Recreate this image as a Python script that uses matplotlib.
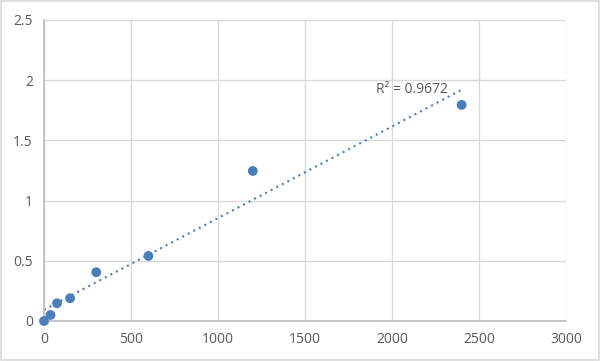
import numpy as np
import matplotlib.pyplot as plt
from matplotlib.patches import Rectangle

# dados
conc = [0, 37.5, 75, 150, 300, 600, 1200, 2400]
od = [0.0, 0.05, 0.147, 0.189, 0.405, 0.54, 1.246, 1.795]
xticks = [0, 500, 1000, 1500, 2000, 2500, 3000]
yticks = [0, 0.5, 1, 1.5, 2, 2.5]
ytick_labels = ['0', '0.5', '1', '1.5', '2', '2.5']
r2_text = 'R² = 0.9672'

plt.rcParams['font.family'] = ['Open Sans', 'DejaVu Sans']

fig = plt.figure(figsize=(6, 3.61), dpi=100)
ax = fig.add_axes([44/600, 40/361, 522/600, 301/361])

# borda da figura
fig.patches.append(Rectangle((0.002, 0.003), 0.996, 0.994, transform=fig.transFigure,
                             fill=False, ec='#d9d9d9', lw=1.2))

cor = '#4a7ebb'
ax.scatter(conc, od, s=50, color=cor, zorder=3, edgecolors='none', clip_on=False)

# linha de tendencia linear
a, b = np.polyfit(conc, od, 1)
xt = np.array([conc[0], conc[-1]])
ax.plot(xt, a * xt + b, linestyle=(0, (1, 2)), color=cor, lw=1.5, zorder=2)

ax.text(1908, 1.92, r2_text, fontsize=10, color='#595959', ha='left', va='center')

ax.set_xlim(0, 3000)
ax.set_ylim(0, 2.5)
ax.set_xticks(xticks)
ax.set_yticks(yticks)
ax.set_yticklabels(ytick_labels)
ax.grid(True, color='#d9d9d9', lw=1)
ax.set_axisbelow(True)
for s in ['top', 'right']:
    ax.spines[s].set_visible(False)
for s in ['left', 'bottom']:
    ax.spines[s].set_color('#bfbfbf')
    ax.spines[s].set_linewidth(1.2)
ax.tick_params(length=0, labelsize=10, colors='#595959', pad=8)

fig.savefig('out.png', dpi=100)
